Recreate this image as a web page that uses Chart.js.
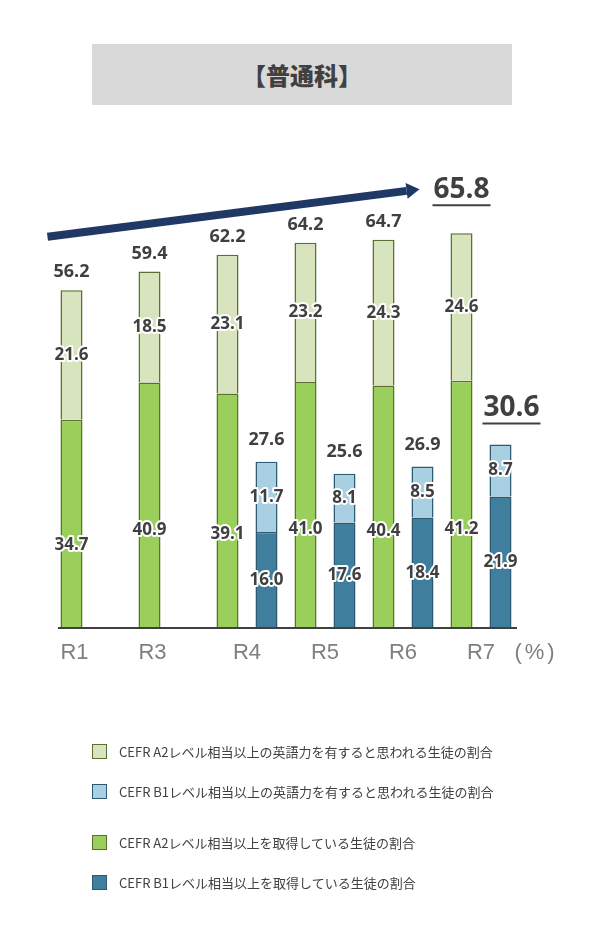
<!DOCTYPE html>
<html lang="ja">
<head>
<meta charset="utf-8">
<script src="https://cdn.jsdelivr.net/npm/chart.js@4.4.1/dist/chart.umd.min.js"></script>
<style>
  html, body { margin: 0; padding: 0; background: #fff; }
  #wrap { position: relative; width: 602px; height: 934px; }
  #grafica { position: absolute; left: 0; top: 0; }
  #titulo {
    position: absolute; left: 92px; top: 44px; width: 420px; height: 61px;
    background: #d9d9d9; color: #404040;
    font: 900 24px "Noto Sans CJK JP";
    display: flex; align-items: center; justify-content: center;
  }
  #leyenda { position: absolute; left: 92px; top: 743px; font: 13px "Noto Sans CJK JP"; color: #404040; }
  .item { display: flex; align-items: center; height: 16px; }
  .item:nth-child(1), .item:nth-child(3) { margin-bottom: 24px; }
  .item:nth-child(2) { margin-bottom: 35px; }
  .caja { width: 15px; height: 15px; border: 1px solid; box-sizing: border-box; margin-right: 12px; }
</style>
</head>
<body>
<div id="wrap">
  <canvas id="grafica" width="602" height="934"></canvas>
  <div id="titulo">【普通科】</div>
  <div id="leyenda"></div>
</div>
<script>
// datos
const categorias = ['R1', 'R3', 'R4', 'R5', 'R6', 'R7'];
const a2Obtenido = [34.7, 40.9, 39.1, 41.0, 40.4, 41.2];
const a2Equivalente = [21.6, 18.5, 23.1, 23.2, 24.3, 24.6];
const a2Total = [56.2, 59.4, 62.2, 64.2, 64.7, 65.8];
const b1Obtenido = [null, null, 16.0, 17.6, 18.4, 21.9];
const b1Equivalente = [null, null, 11.7, 8.1, 8.5, 8.7];
const b1Total = [null, null, 27.6, 25.6, 26.9, 30.6];

const nombres = [
  'CEFR A2レベル相当以上を取得している生徒の割合',
  'CEFR A2レベル相当以上の英語力を有すると思われる生徒の割合',
  'CEFR B1レベル相当以上を取得している生徒の割合',
  'CEFR B1レベル相当以上の英語力を有すると思われる生徒の割合'
];
const ordenLeyenda = [1, 3, 0, 2];

const gris = '#404040';
const fuenteNum = '"Open Sans", "Liberation Sans", sans-serif';

// etiquetas de valores, totales, flecha y eje
const etiquetas = {
  id: 'etiquetas',
  afterDatasetsDraw(chart) {
    const ctx = chart.ctx;
    const area = chart.chartArea;
    const ys = chart.scales.y;
    const metas = chart.data.datasets.map((d, i) => chart.getDatasetMeta(i));
    const ultimo = categorias.length - 1;
    ctx.save();

    // linea base
    ctx.strokeStyle = gris;
    ctx.lineWidth = 2;
    ctx.beginPath();
    ctx.moveTo(area.left + 6, area.bottom);
    ctx.lineTo(area.right - 3, area.bottom);
    ctx.stroke();

    // valores de cada segmento
    ctx.textAlign = 'center';
    ctx.textBaseline = 'middle';
    ctx.font = 'bold 17px ' + fuenteNum;
    ctx.lineJoin = 'round';
    chart.data.datasets.forEach((ds, i) => {
      metas[i].data.forEach((el, j) => {
        const v = ds.data[j];
        if (v == null) return;
        const yy = i === 0 ? el.base - 0.4 * (el.base - el.y) : (el.y + el.base) / 2;
        ctx.lineWidth = 4;
        ctx.strokeStyle = '#fff';
        ctx.strokeText(v.toFixed(1), el.x, yy);
        ctx.fillStyle = gris;
        ctx.fillText(v.toFixed(1), el.x, yy);
      });
    });

    // totales
    const totales = [[a2Total, metas[1], 18, 43, 0], [b1Total, metas[3], 22, 36, 11]];
    let flechaFin = null;
    totales.forEach(([vals, meta, sep, sepGrande, dx], k) => {
      vals.forEach((v, j) => {
        if (v == null) return;
        const el = meta.data[j];
        ctx.fillStyle = gris;
        if (j < ultimo) {
          ctx.font = 'bold 18px ' + fuenteNum;
          ctx.fillText(v.toFixed(1), el.x, el.y - sep);
        } else {
          ctx.font = 'bold 28px ' + fuenteNum;
          const x = el.x + dx, y = el.y - sepGrande;
          const w = ctx.measureText(v.toFixed(1)).width;
          ctx.fillText(v.toFixed(1), x, y);
          ctx.strokeStyle = gris;
          ctx.lineWidth = 2;
          ctx.beginPath();
          ctx.moveTo(x - w / 2 - 1, y + 15);
          ctx.lineTo(x + w / 2 + 1, y + 15);
          ctx.stroke();
          if (k === 0) flechaFin = { x: x - w / 2 - 14, y: y - 1 };
        }
      });
    });

    // flecha
    if (flechaFin) {
      const x0 = metas[1].data[0].x - 24, y0 = ys.getPixelForValue(65.2);
      const ang = Math.atan2(flechaFin.y - y0, flechaFin.x - x0);
      const largo = 13, ancho = 8;
      const bx = flechaFin.x - largo * Math.cos(ang), by = flechaFin.y - largo * Math.sin(ang);
      ctx.strokeStyle = '#1f3864';
      ctx.fillStyle = '#1f3864';
      ctx.lineWidth = 8;
      ctx.lineCap = 'butt';
      ctx.beginPath();
      ctx.moveTo(x0, y0);
      ctx.lineTo(bx, by);
      ctx.stroke();
      ctx.beginPath();
      ctx.moveTo(flechaFin.x, flechaFin.y);
      ctx.lineTo(bx + ancho * Math.sin(ang), by - ancho * Math.cos(ang));
      ctx.lineTo(bx - ancho * Math.sin(ang), by + ancho * Math.cos(ang));
      ctx.closePath();
      ctx.fill();
    }

    // etiquetas del eje x, centradas bajo las barras que existen
    ctx.font = '22px "Liberation Sans", sans-serif';
    ctx.fillStyle = '#7f7f7f';
    categorias.forEach((c, j) => {
      const xs = [];
      chart.data.datasets.forEach((ds, i) => {
        if (ds.data[j] != null && (i === 0 || i === 2)) xs.push(metas[i].data[j].x);
      });
      const x = xs.reduce((a, b) => a + b, 0) / xs.length;
      ctx.fillText(c, x + (xs.length === 1 ? 3 : 0), area.bottom + 25);
    });
    ctx.letterSpacing = '3px';
    ctx.fillText('(%)', area.right + 16, area.bottom + 25);
    ctx.restore();
  }
};

let grafica = null;
function dibujar() {
  const ctx = document.getElementById('grafica').getContext('2d');
  const config = {
    type: 'bar',
    data: {
      labels: categorias,
      datasets: [
        { label: nombres[0], data: a2Obtenido, stack: 'A2', backgroundColor: '#9bcf5b', borderColor: '#5a7030' },
        { label: nombres[1], data: a2Equivalente, stack: 'A2', backgroundColor: '#d8e4bd', borderColor: '#5a7030' },
        { label: nombres[2], data: b1Obtenido, stack: 'B1', backgroundColor: '#3f7e9c', borderColor: '#2b5a72' },
        { label: nombres[3], data: b1Equivalente, stack: 'B1', backgroundColor: '#a8d0e2', borderColor: '#2b5a72' }
      ]
    },
    options: {
      responsive: false,
      animation: false,
      layout: { padding: { left: 52, right: 82, top: 148, bottom: 306 } },
      datasets: { bar: { categoryPercentage: 1.0, barPercentage: 0.565, borderWidth: 1.5 } },
      plugins: { legend: { display: false }, tooltip: { enabled: false } },
      scales: {
        x: { display: false, stacked: true },
        y: { display: false, stacked: true, min: 0, max: 80 }
      }
    },
    plugins: [etiquetas]
  };
  grafica = new Chart(ctx, config);

  // leyenda
  const ley = document.getElementById('leyenda');
  ordenLeyenda.forEach(i => {
    const ds = grafica.data.datasets[i];
    const item = document.createElement('div');
    item.className = 'item';
    item.innerHTML = `<span class="caja" style="background:${ds.backgroundColor};border-color:${ds.borderColor}"></span><span>${ds.label}</span>`;
    ley.appendChild(item);
  });
}

dibujar();
</script>
</body>
</html>
